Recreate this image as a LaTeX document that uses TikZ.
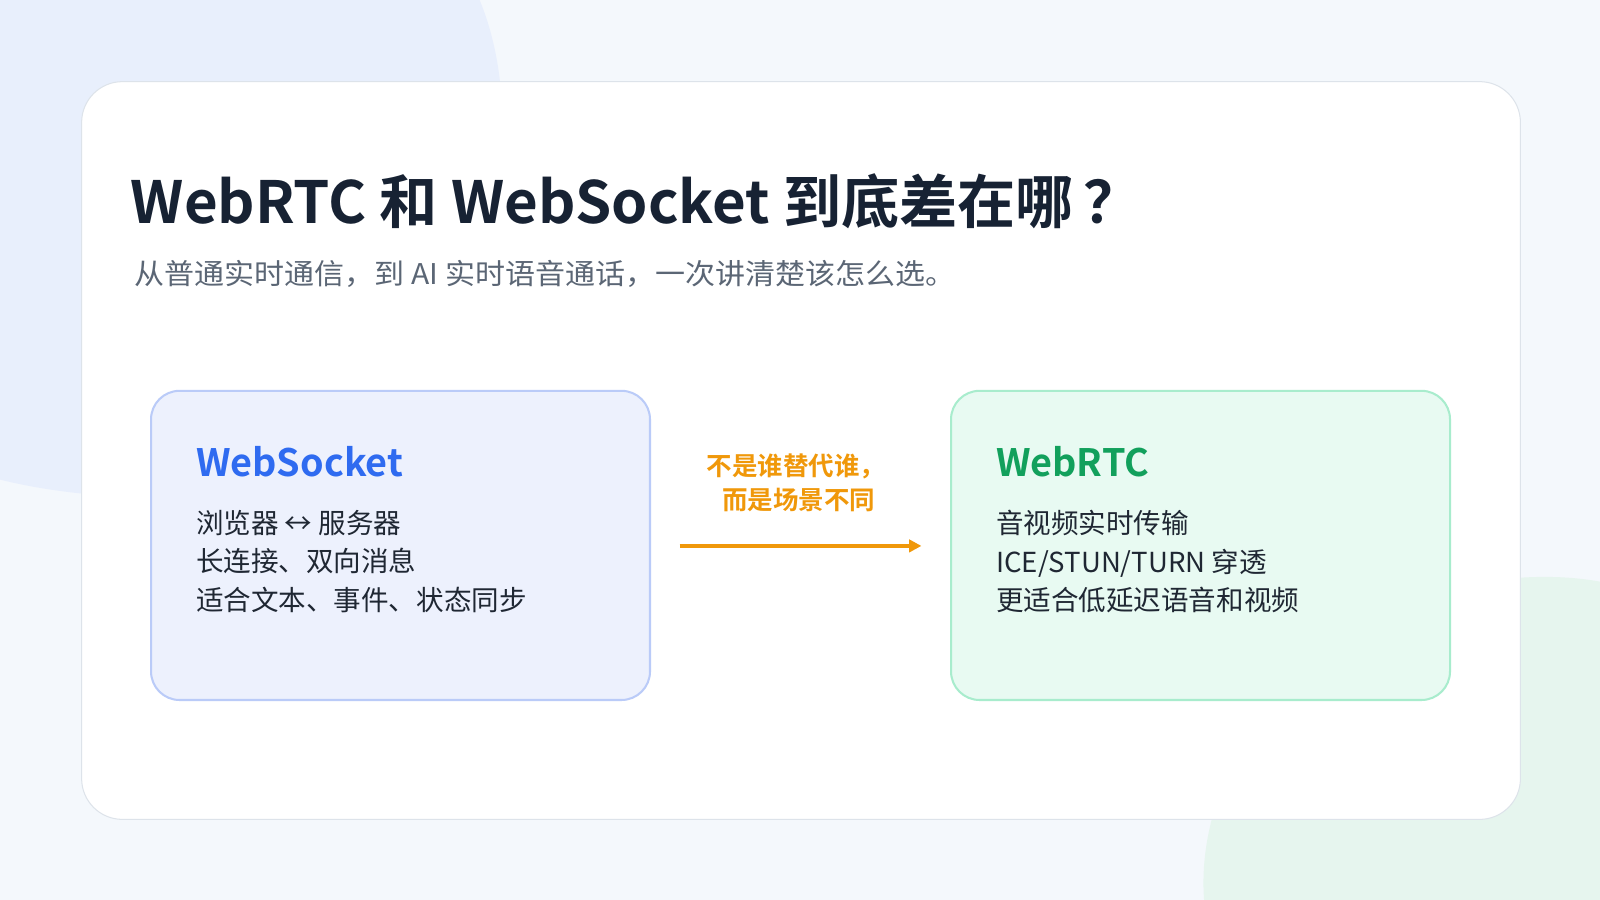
\documentclass[tikz,border=0pt]{standalone}
\usepackage{fontspec}
\setmainfont{Noto Sans CJK SC}
\newfontfamily\cjkb{Noto Sans CJK SC Bold}
\usetikzlibrary{arrows.meta}
\definecolor{bg}{HTML}{F4F8FC}
\definecolor{blobb}{HTML}{E8EFFC}
\definecolor{blobg}{HTML}{E6F5EE}
\definecolor{cardline}{HTML}{DDE3EA}
\definecolor{titlec}{HTML}{172233}
\definecolor{subc}{HTML}{5B6675}
\definecolor{lfill}{HTML}{EDF1FD}
\definecolor{lline}{HTML}{BACBF8}
\definecolor{rfill}{HTML}{E8FAF2}
\definecolor{rline}{HTML}{A8ECCD}
\definecolor{blue}{HTML}{2F6BF0}
\definecolor{green}{HTML}{12A05C}
\definecolor{orange}{HTML}{F0980A}
\definecolor{body}{HTML}{1F2733}
\begin{document}
\begin{tikzpicture}[x=1pt,y=-1pt,
  box/.style={rounded corners=28pt,line width=2pt},
  head/.style={anchor=west,font=\cjkb\fontsize{37}{44}\selectfont},
  lines/.style={anchor=north west,align=left,text=body,font=\fontsize{27}{37.5}\selectfont,inner sep=0pt}]
\useasboundingbox (0,0) rectangle (1568,882);
\fill[bg] (0,0) rectangle (1568,882);
\fill[blobb] (0,0) -- (470,0) .. controls (520,120) and (480,300) .. (420,390) .. controls (330,500) and (120,500) .. (0,470) -- cycle;
\fill[blobg] (1568,882) -- (1180,882) .. controls (1170,750) and (1280,600) .. (1440,572) .. controls (1500,562) and (1540,565) .. (1568,570) -- cycle;
\draw[cardline,fill=white,rounded corners=40pt,line width=1pt] (80,80) rectangle (1490,803);
\node[anchor=base west,inner sep=0pt,text=titlec,font=\cjkb\fontsize{57}{60}\selectfont] (title) at (128,219) {WebRTC 和 WebSocket 到底差在哪\,？};
\node[anchor=west,inner sep=0pt,text=subc,font=\fontsize{28}{30}\selectfont,xscale=1.05] (sub) at (132,268) {从普通实时通信，到 AI 实时语音通话，一次讲清楚该怎么选。};
\draw[box,lline,fill=lfill] (148,383) rectangle (637,686);
\draw[box,rline,fill=rfill] (932,383) rectangle (1421,686);
\node[head,text=blue,inner sep=0pt] (ws) at (192,452) {WebSocket};
\node[lines] (wsl) at (192,500) {浏览器 ↔ 服务器\\长连接、双向消息\\适合文本、事件、状态同步};
\node[head,text=green,inner sep=0pt] (rtc) at (976,452) {WebRTC};
\node[lines] (rtcl) at (976,500) {音视频实时传输\\ICE/STUN/TURN 穿透\\更适合低延迟语音和视频};
\node[align=center,text=orange,font=\cjkb\fontsize{25}{33}\selectfont] (mid) at (780,473) {不是谁替代谁，\\\ 而是场景不同};
\coordinate (a1) at (666,535);
\coordinate (a2) at (903,535);
\draw[orange,line width=4pt,-{Triangle[length=12pt,width=12pt]}] (a1) -- (a2);
\end{tikzpicture}
\end{document}
